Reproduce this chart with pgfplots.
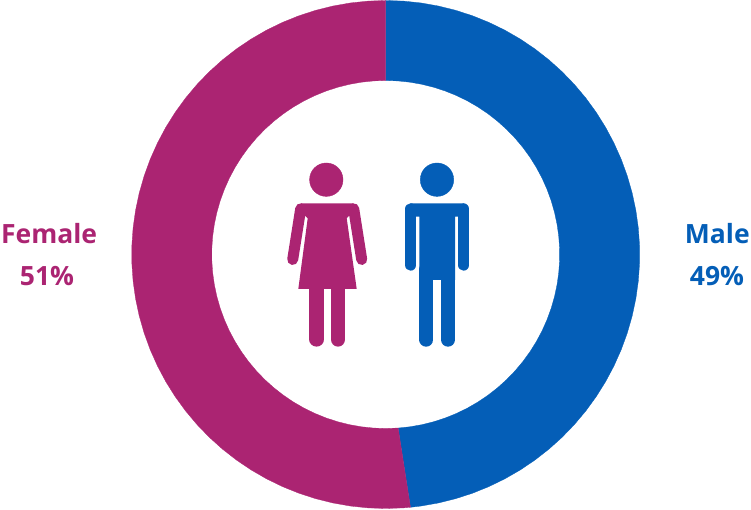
\documentclass[border=0pt]{standalone}
\usepackage{fontspec}
\setmainfont{Open Sans}
\usepackage{pgfplots}
\pgfplotsset{compat=1.18}
\definecolor{femalec}{HTML}{AB2472}
\definecolor{malec}{HTML}{045EB7}
\begin{document}
\begin{tikzpicture}
\begin{axis}[
    x=1pt, y=1pt,
    xmin=-385.7, xmax=365.3,
    ymin=-255.5, ymax=254.5,
    hide axis,
    clip=false,
]
% keep the page at the full frame, hide axis drops it
\path (axis cs:-385.7,-255.5) rectangle (axis cs:365.3,254.5);
% Male ring, polar (angle, radius)
\addplot[data cs=polar, fill=malec, draw=malec, line width=0.3pt] coordinates {
    (90,254) (86,254) (82,254) (78,254) (74,254) (70,254) (66,254) (62,254) (58,254) (54,254)
    (50,254) (46,254) (42,254) (38,254) (34,254) (30,254) (26,254) (22,254) (18,254) (14,254)
    (10,254) (6,254) (2,254) (-2,254) (-6,254) (-10,254) (-14,254) (-18,254) (-22,254) (-26,254)
    (-30,254) (-34,254) (-38,254) (-42,254) (-46,254) (-50,254) (-54,254) (-58,254) (-62,254)
    (-66,254) (-70,254) (-74,254) (-78,254) (-82,254) (-84.4,254)
    (-85.9,174) (-82,174) (-78,174) (-74,174) (-70,174) (-66,174) (-62,174) (-58,174) (-54,174)
    (-50,174) (-46,174) (-42,174) (-38,174) (-34,174) (-30,174) (-26,174) (-22,174) (-18,174)
    (-14,174) (-10,174) (-6,174) (-2,174) (2,174) (6,174) (10,174) (14,174) (18,174) (22,174)
    (26,174) (30,174) (34,174) (38,174) (42,174) (46,174) (50,174) (54,174) (58,174) (62,174)
    (66,174) (70,174) (74,174) (78,174) (82,174) (86,174) (90,174)
} -- cycle;
% Female ring
\addplot[data cs=polar, fill=femalec, draw=femalec, line width=0.3pt] coordinates {
    (90,254) (94,254) (98,254) (102,254) (106,254) (110,254) (114,254) (118,254) (122,254) (126,254)
    (130,254) (134,254) (138,254) (142,254) (146,254) (150,254) (154,254) (158,254) (162,254) (166,254)
    (170,254) (174,254) (178,254) (182,254) (186,254) (190,254) (194,254) (198,254) (202,254) (206,254)
    (210,254) (214,254) (218,254) (222,254) (226,254) (230,254) (234,254) (238,254) (242,254) (246,254)
    (250,254) (254,254) (258,254) (262,254) (266,254) (270,254) (274,254) (275.6,254)
    (274.1,174) (270,174) (266,174) (262,174) (258,174) (254,174) (250,174) (246,174) (242,174) (238,174)
    (234,174) (230,174) (226,174) (222,174) (218,174) (214,174) (210,174) (206,174) (202,174) (198,174)
    (194,174) (190,174) (186,174) (182,174) (178,174) (174,174) (170,174) (166,174) (162,174) (158,174)
    (154,174) (150,174) (146,174) (142,174) (138,174) (134,174) (130,174) (126,174) (122,174) (118,174)
    (114,174) (110,174) (106,174) (102,174) (98,174) (94,174) (90,174)
} -- cycle;

% Female figure
\addplot[only marks, mark=*, mark size=16.7pt, color=femalec] coordinates {(-59.4,74.8)};
\addplot[fill=femalec, draw=none] coordinates {
    (-85,51.2) (-32,51.2) (-36.7,38.5) (-39,36.2) (-29,-34.5) (-87.4,-34.5) (-78,36.2) (-80.4,38.5)
} -- cycle;
\addplot[femalec, line width=11pt, line cap=round] coordinates {(-85,45.7) (-93,-5)};
\addplot[femalec, line width=11pt, line cap=round] coordinates {(-32,45.7) (-24,-5)};
\addplot[femalec, line width=14.7pt, line cap=round] coordinates {(-69,-25) (-69,-84.8)};
\addplot[femalec, line width=14.7pt, line cap=round] coordinates {(-47.7,-25) (-47.7,-84.8)};

% Male figure
\addplot[only marks, mark=*, mark size=16.7pt, color=malec] coordinates {(51.3,74.8)};
\addplot[fill=malec, draw=none] coordinates {
    (24.6,51.2) (78.3,51.2) (78.3,37.8) (69.3,37.8) (69.3,-25.5) (33.6,-25.5) (33.6,37.8) (24.6,37.8)
} -- cycle;
\addplot[malec, line width=11.4pt, line cap=round] coordinates {(25,45.5) (25,-10.5)};
\addplot[malec, line width=11.4pt, line cap=round] coordinates {(77.9,45.5) (77.9,-10.5)};
\addplot[malec, line width=14pt, line cap=round] coordinates {(40.6,-15) (40.6,-85.2)};
\addplot[malec, line width=14pt, line cap=round] coordinates {(62.3,-15) (62.3,-85.2)};

% Labels
\node[overlay, inner sep=0pt, anchor=base, font=\fontsize{26.5}{30}\selectfont\bfseries, text=femalec] at (axis cs:-336.6,11) {Female};
\node[overlay, inner sep=0pt, anchor=base, font=\fontsize{26.5}{30}\selectfont\bfseries, text=femalec] at (axis cs:-338.7,-31.5) {51\%};
\node[overlay, inner sep=0pt, anchor=base, font=\fontsize{26.5}{30}\selectfont\bfseries, text=malec] at (axis cs:331.6,10.5) {Male};
\node[overlay, inner sep=0pt, anchor=base, font=\fontsize{26.5}{30}\selectfont\bfseries, text=malec] at (axis cs:331.3,-31.5) {49\%};
\end{axis}
\end{tikzpicture}
\end{document}
